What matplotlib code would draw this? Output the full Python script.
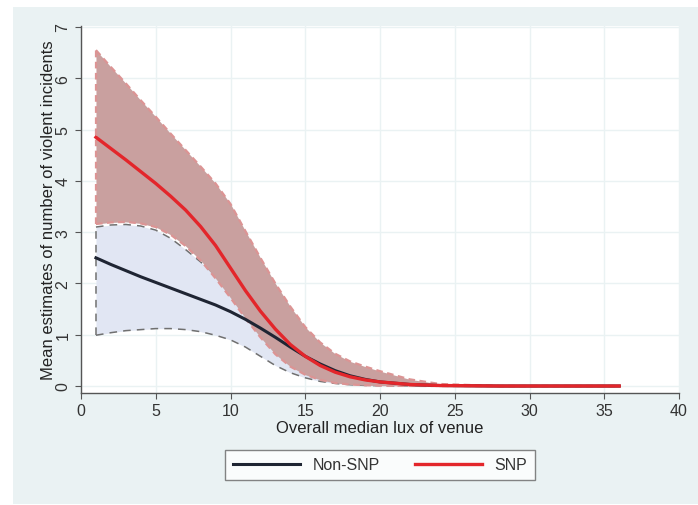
import numpy as np
import matplotlib.pyplot as plt
from matplotlib.patches import Rectangle

plt.rcParams['font.family'] = ['Liberation Sans', 'DejaVu Sans']

# x values (overall median lux of venue)
lux = [1, 2, 3, 4, 5, 6, 7, 8, 9, 10, 11, 12, 13, 14, 15, 16, 17, 18, 19, 20,
       22, 24, 28, 32, 36]

# Non-SNP mean and CI
nonsnp_mean = [2.50, 2.37, 2.25, 2.13, 2.02, 1.91, 1.80, 1.69, 1.58, 1.45, 1.30, 1.13, 0.95,
               0.76, 0.58, 0.43, 0.30, 0.20, 0.13, 0.08, 0.03, 0.01, 0.0, 0.0, 0.0]
nonsnp_hi = [3.10, 3.14, 3.15, 3.12, 3.04, 2.88, 2.66, 2.42, 2.16, 1.90, 1.62, 1.36, 1.10,
             0.88, 0.68, 0.50, 0.36, 0.25, 0.17, 0.11, 0.04, 0.015, 0.0, 0.0, 0.0]
nonsnp_lo = [0.99, 1.04, 1.08, 1.10, 1.12, 1.12, 1.10, 1.06, 0.99, 0.90, 0.76, 0.58, 0.40,
             0.26, 0.16, 0.09, 0.05, 0.025, 0.012, 0.006, 0.002, 0.0, 0.0, 0.0, 0.0]

# SNP mean and CI
snp_mean = [4.85, 4.63, 4.41, 4.18, 3.95, 3.70, 3.43, 3.11, 2.74, 2.30, 1.86, 1.46, 1.11,
            0.81, 0.58, 0.40, 0.27, 0.18, 0.12, 0.08, 0.03, 0.01, 0.0, 0.0, 0.0]
snp_hi = [6.55, 6.22, 5.90, 5.57, 5.25, 4.92, 4.60, 4.28, 3.95, 3.55, 3.02, 2.50, 2.00,
          1.55, 1.15, 0.85, 0.63, 0.48, 0.38, 0.29, 0.13, 0.04, 0.0, 0.0, 0.0]
snp_lo = [3.16, 3.19, 3.20, 3.17, 3.10, 2.95, 2.73, 2.45, 2.10, 1.72, 1.32, 0.95, 0.62,
          0.38, 0.22, 0.12, 0.06, 0.03, 0.015, 0.008, 0.002, 0.0, 0.0, 0.0, 0.0]

bg = '#eaf2f3'
fig = plt.figure(figsize=(6.98, 5.06), dpi=100, facecolor='white')
fig.patches.append(Rectangle((13 / 698, 0.002), 1 - 13 / 698, 1 - 8 / 506 - 0.002,
                             transform=fig.transFigure, facecolor=bg, edgecolor='none', zorder=-10))
ax = fig.add_axes([81 / 698, 1 - 394 / 506, (679 - 81) / 698, (394 - 27) / 506])
ax.set_facecolor('white')

# Non-SNP CI band
ax.fill_between(lux, nonsnp_lo, nonsnp_hi, color='#e1e6f3', linewidth=0, zorder=1)
ax.plot(lux, nonsnp_hi, color='#707070', ls=(0, (5, 4)), lw=1.1, zorder=2)
ax.plot(lux, nonsnp_lo, color='#707070', ls=(0, (5, 4)), lw=1.1, zorder=2)
ax.plot([lux[0], lux[0]], [nonsnp_lo[0], nonsnp_hi[0]], color='#707070', ls=(0, (5, 4)), lw=1.1, zorder=2)

# SNP CI band
ax.fill_between(lux, snp_lo, snp_hi, color='#c9a09f', linewidth=0, zorder=3)
ax.plot(lux, snp_hi, color='#dc9494', ls=(0, (3, 2)), lw=1.6, zorder=4)
ax.plot(lux, snp_lo, color='#dc9494', ls=(0, (3, 2)), lw=1.6, zorder=4)
ax.plot([lux[0], lux[0]], [snp_lo[0], snp_hi[0]], color='#dc9494', ls=(0, (3, 2)), lw=1.6, zorder=4)

# mean lines
ax.plot(lux, nonsnp_mean, color='#1f2533', lw=2.2, zorder=5, label='Non-SNP')
ax.plot(lux, snp_mean, color='#e3262b', lw=2.4, zorder=6, label='SNP')

ax.set_xlim(0, 40)
ax.set_ylim(-0.136, 7.02)
ax.set_xticks(range(0, 41, 5))
ax.set_yticks(range(0, 8))
ax.grid(True, color=bg, lw=1.0, zorder=0)
ax.set_axisbelow(True)
for s in ['top', 'right']:
    ax.spines[s].set_visible(False)
for s in ['left', 'bottom']:
    ax.spines[s].set_color('#555555')
    ax.spines[s].set_linewidth(1.0)
ax.tick_params(direction='out', length=4, color='#555555', labelsize=11.5, labelcolor='#333333')
plt.setp(ax.get_yticklabels(), rotation=90, va='center')

ax.set_xlabel('Overall median lux of venue', fontsize=12, color='#222222', labelpad=1)
ax.set_ylabel('Mean estimates of number of violent incidents', fontsize=12, color='#222222', labelpad=0)

leg = fig.legend(loc='center', bbox_to_anchor=(380 / 698, 1 - 466 / 506), ncol=2, fontsize=11.5,
                 frameon=True, fancybox=False, handlelength=4.2, columnspacing=2.2,
                 borderpad=0.5)
leg.get_frame().set_edgecolor('#666666')
leg.get_frame().set_linewidth(1.0)
for t in leg.get_texts():
    t.set_color('#333333')

fig.savefig('out.png', dpi=100, facecolor=fig.get_facecolor())
